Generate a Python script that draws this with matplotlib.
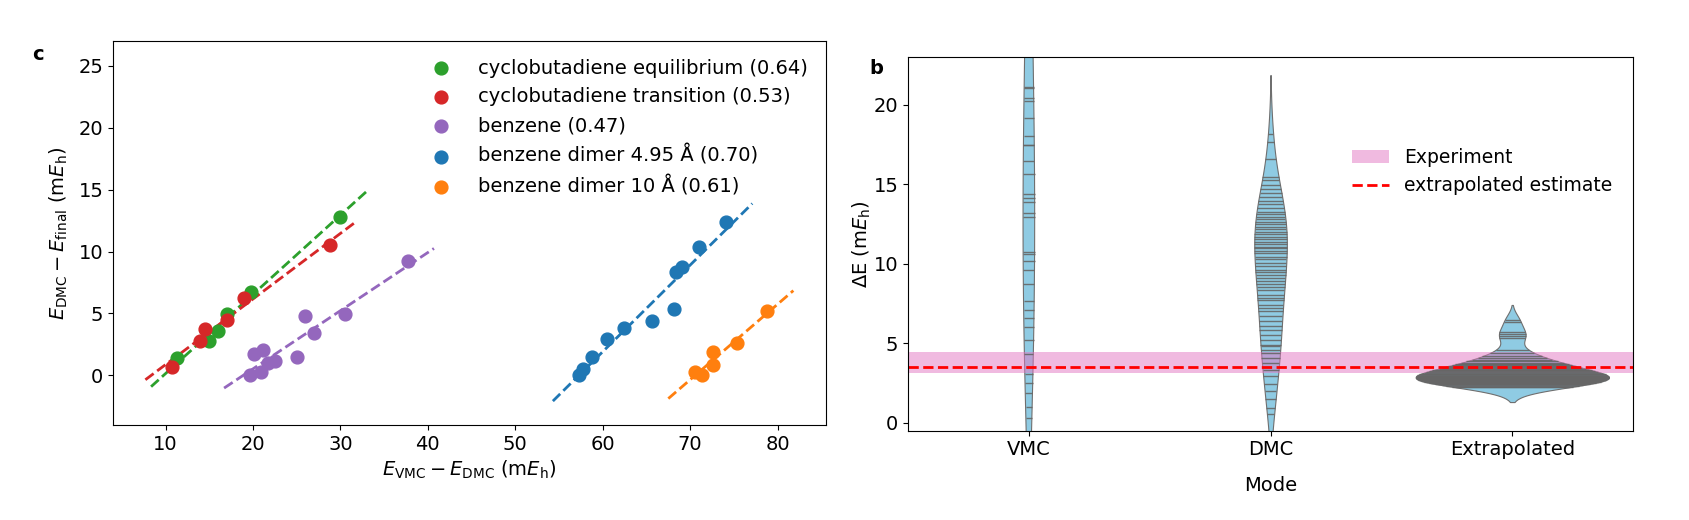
import numpy as np
import pandas as pd
import matplotlib
matplotlib.use("Agg")
import matplotlib.pyplot as plt
import seaborn as sns

# ---- panel c data: E_VMC - E_DMC vs E_DMC - E_final (mEh) ----
eq_x = [11.35, 15.0, 16.0, 17.0, 19.8, 30.0]
eq_y = [1.37, 2.80, 3.58, 4.96, 6.76, 12.82]
tr_x = [10.7, 13.9, 14.5, 17.0, 19.0, 28.8]
tr_y = [0.70, 2.80, 3.72, 4.47, 6.22, 10.53]
bz_x = [19.7, 20.9, 20.1, 21.1, 21.7, 22.5, 25.0, 25.9, 27.0, 30.5, 37.7]
bz_y = [0.0, 0.30, 1.70, 2.05, 1.03, 1.19, 1.51, 4.80, 3.40, 4.96, 9.27]
d495_x = [57.3, 57.8, 58.8, 60.5, 62.45, 65.6, 68.2, 68.4, 69.1, 71.0, 74.1]
d495_y = [0.0, 0.51, 1.45, 2.91, 3.80, 4.39, 5.33, 8.38, 8.78, 10.34, 12.37]
d10_x = [70.5, 71.4, 72.6, 72.6, 75.4, 78.8]
d10_y = [0.30, 0.0, 0.84, 1.89, 2.64, 5.20]

names = ["cyclobutadiene equilibrium", "cyclobutadiene transition", "benzene",
         "benzene dimer 4.95 Å", "benzene dimer 10 Å"]
slopes = [0.64, 0.53, 0.47, 0.70, 0.61]
colors = ["tab:green", "tab:red", "tab:purple", "tab:blue", "tab:orange"]

# ---- panel b data: energy differences per mode (mEh) ----
vmc_values = [0.31, 1.0, 1.84, 2.47, 3.03, 4.35, 5.18, 6.02, 6.61, 7.11, 7.67, 8.72,
              9.62, 10.18, 10.62, 10.77, 12.92, 13.17, 13.88, 14.16, 14.39, 15.64,
              16.46, 17.46, 17.5, 18.07, 19.2, 20.22, 20.43, 21.05, 21.1,
              23.8, 25.0, 26.5, 27.9, 29.3, 31.0, 32.4, 34.2, 36.0, 38.1, 40.5,
              43.0, 46.0, 49.5]
dmc_values = [0.52, 0.94, 1.46, 1.98, 2.40, 2.92, 3.34, 3.76, 4.08, 4.39, 4.60, 4.81,
              4.91, 5.23, 5.54, 5.85, 6.06, 6.37, 6.69, 7.0, 7.21, 7.42, 7.74, 7.84,
              8.05, 8.36, 8.51, 8.72, 8.93, 9.10, 9.30, 9.51, 9.62, 9.83, 10.04,
              10.31, 10.45, 10.66, 10.81, 10.98, 11.08, 11.25, 11.39, 11.54, 11.71,
              11.88, 12.02, 12.17, 12.33, 12.50, 12.65, 12.80, 12.96, 13.13, 13.27,
              13.49, 13.74, 13.95, 14.22, 14.43, 14.70, 14.95, 15.26, 15.43, 16.62,
              17.67, 18.19]
extrap_values = [2.22, 2.26, 2.32, 2.36, 2.40, 2.44, 2.48, 2.51, 2.55, 2.58, 2.61,
                 2.63, 2.66, 2.68, 2.70, 2.72, 2.74, 2.76, 2.78, 2.80, 2.82, 2.84,
                 2.86, 2.88, 2.90, 2.92, 2.95, 2.98, 3.03, 3.08, 3.14, 3.19, 3.24,
                 3.29, 3.34, 3.40, 3.45, 3.50, 3.55, 3.61, 3.66, 3.71, 3.76, 3.86,
                 3.97, 4.08, 4.18, 4.39, 4.60, 5.33, 5.45, 5.56, 5.69, 6.36, 6.48]
modes = ["VMC", "DMC", "Extrapolated"]
experiment_band = (3.15, 4.43)
extrapolated_estimate = 3.47

plt.rcParams["font.size"] = 14

fig = plt.figure(figsize=(16.89, 5.2), dpi=100)
ax1 = fig.add_axes([0.0669, 0.183, 0.422, 0.738])
ax2 = fig.add_axes([0.5376, 0.172, 0.4293, 0.718])

series = [(eq_x, eq_y), (tr_x, tr_y), (bz_x, bz_y), (d495_x, d495_y), (d10_x, d10_y)]
for (xs, ys), name, m, c in zip(series, names, slopes, colors):
    xs = np.array(xs)
    ys = np.array(ys)
    ax1.scatter(xs, ys, s=85, color=c, label=f"{name} ({m:.2f})", zorder=3)
    b = np.mean(ys - m * xs)
    xl = np.array([xs.min() - 3, xs.max() + 3])
    ax1.plot(xl, m * xl + b, "--", color=c, lw=2)

ax1.set_ylim(-4, 27)
ax1.set_xlabel(r"$E_{\rm VMC} - E_{\rm DMC}$ (m$E_{\rm h}$)")
ax1.set_ylabel(r"$E_{\rm DMC} - E_{\rm final}$ (m$E_{\rm h}$)", labelpad=6)
ax1.legend(loc="upper right", frameon=False, fontsize=14, handletextpad=0.9)

# violins
df = pd.DataFrame({
    "Mode": ["VMC"] * len(vmc_values) + ["DMC"] * len(dmc_values)
            + ["Extrapolated"] * len(extrap_values),
    "dE": vmc_values + dmc_values + extrap_values,
})
sns.violinplot(data=df, x="Mode", y="dE", order=modes, ax=ax2, inner="stick",
               color="skyblue", saturation=0.85, linecolor="gray", linewidth=0.8,
               inner_kws=dict(color="0.4", linewidth=1.0, alpha=0.9))
ax2.axhspan(*experiment_band, color="tab:pink", alpha=0.5, lw=0, label="Experiment")
ax2.axhline(extrapolated_estimate, color="red", ls="--", lw=2, label="extrapolated estimate")
ax2.set_ylim(-0.5, 23)
ax2.set_xlim(-0.5, 2.5)
ax2.set_xlabel("Mode", labelpad=12)
ax2.set_ylabel(r"$\Delta$E (m$E_{\rm h}$)", labelpad=0)
ax2.legend(loc="center left", bbox_to_anchor=(0.589, 0.694), frameon=False, fontsize=13.5)

fig.text(0.019, 0.885, "c", fontsize=14, fontweight="bold")
fig.text(0.515, 0.858, "b", fontsize=14, fontweight="bold")

fig.savefig("out.png", dpi=100)
